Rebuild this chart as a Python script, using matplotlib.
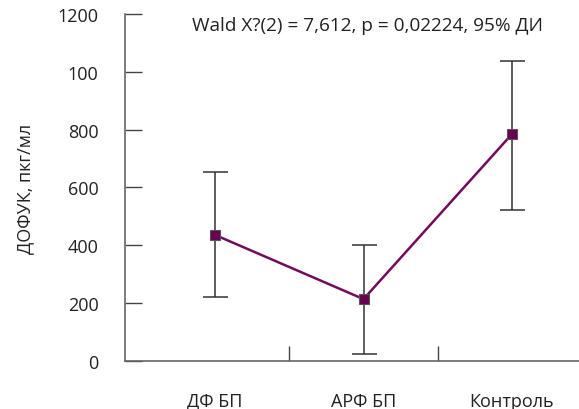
import matplotlib.pyplot as plt
import numpy as np

plt.rcParams['font.family'] = ['Open Sans', 'DejaVu Sans']

groups = ["ДФ БП", "АРФ БП", "Контроль"]
means = [436, 214, 785]
ci_low = [221, 24, 522]
ci_high = [654, 401, 1038]
y_ticks = [0, 200, 400, 600, 800, 1000, 1200]
y_tick_labels = ["0", "200", "400", "600", "800", "100", "1200"]
note = "Wald X?(2) = 7,612, p = 0,02224, 95% ДИ"

fig = plt.figure(figsize=(5.79, 4.10), dpi=100)
ax = fig.add_axes([0.2159, 0.1171, 0.7841, 0.8463])

x = np.arange(len(groups))
means = np.array(means)
yerr = [means - np.array(ci_low), np.array(ci_high) - means]

ax.errorbar(x, means, yerr=yerr, fmt='none', ecolor='#333333', elinewidth=1.1,
            capsize=9, capthick=1.1, zorder=2)
ax.plot(x, means, color='#730a5c', linewidth=1.8, zorder=3)
ax.plot(x, means, linestyle='none', marker='s', markersize=7.5,
        markerfacecolor='#6a0050', markeredgecolor='#555555', markeredgewidth=0.8, zorder=4)

ax.set_xlim(-0.606, 2.451)
ax.set_ylim(0, 1200)

for s in ['top', 'right']:
    ax.spines[s].set_visible(False)
for s in ['left', 'bottom']:
    ax.spines[s].set_color('#666666')
    ax.spines[s].set_linewidth(1.2)

ax.set_yticks(y_ticks)
ax.set_yticklabels(y_tick_labels, fontsize=13, color='#222222')
ax.tick_params(axis='y', direction='in', length=12, width=1, color='#444444', pad=19)

ax.set_xticks(x)
ax.set_xticklabels(groups, fontsize=13, color='#222222')
ax.set_xticks([0.5, 1.5], minor=True)
ax.tick_params(axis='x', which='major', length=0, pad=22)
ax.tick_params(axis='x', which='minor', direction='in', length=11, width=1, color='#444444')

ax.set_ylabel("ДОФУК, пкг/мл", fontsize=13, color='#222222', labelpad=17)

fig.text(0.332, 0.937, note, fontsize=13.7, color='#222222', ha='left', va='center')

plt.savefig("out.png", dpi=100)
